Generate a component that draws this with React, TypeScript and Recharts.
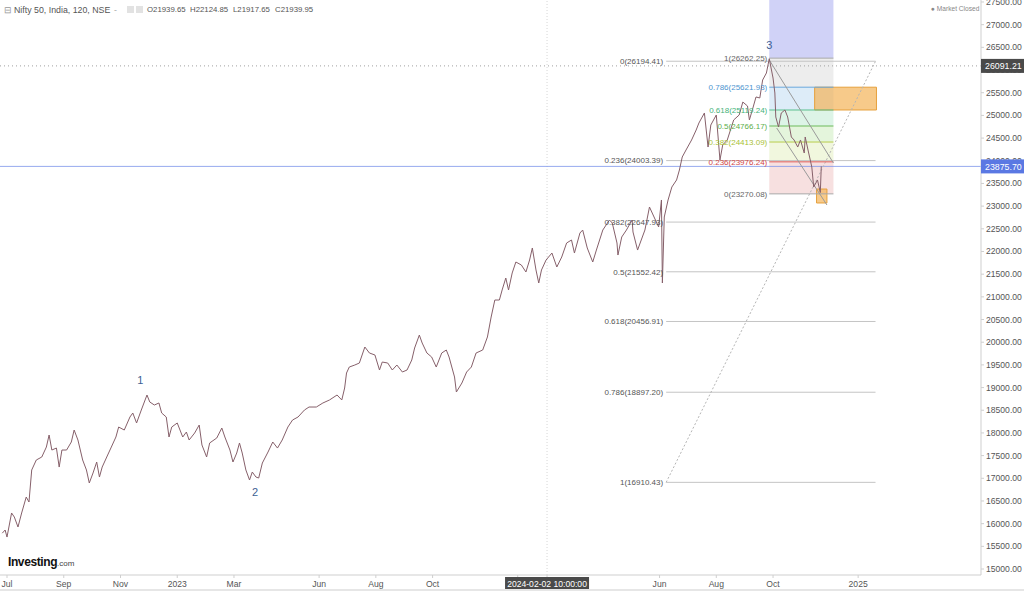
import React from 'react';
import {
  ComposedChart,
  Line,
  XAxis,
  YAxis,
  ReferenceLine,
  ReferenceArea,
  ReferenceDot,
} from 'recharts';

// price path (120-min Nifty 50) at roughly weekly steps
const priceDates = [
  '2022-06-26', '2022-06-29', '2022-07-01', '2022-07-06', '2022-07-09', '2022-07-13', '2022-07-17', '2022-07-22',
  '2022-07-25', '2022-07-28', '2022-08-02', '2022-08-08', '2022-08-13', '2022-08-16', '2022-08-19', '2022-08-24',
  '2022-08-27', '2022-08-30', '2022-09-04', '2022-09-09', '2022-09-12', '2022-09-16', '2022-09-21', '2022-09-25',
  '2022-09-28', '2022-10-02', '2022-10-06', '2022-10-09', '2022-10-12', '2022-10-17', '2022-10-22', '2022-10-27',
  '2022-10-30', '2022-11-05', '2022-11-11', '2022-11-14', '2022-11-18', '2022-11-23', '2022-11-29', '2022-12-02',
  '2022-12-07', '2022-12-12', '2022-12-15', '2022-12-20', '2022-12-23', '2022-12-26', '2023-01-01', '2023-01-07',
  '2023-01-11', '2023-01-14', '2023-01-20', '2023-01-25', '2023-01-28', '2023-02-02', '2023-02-05', '2023-02-12',
  '2023-02-17', '2023-02-20', '2023-02-25', '2023-02-28', '2023-03-04', '2023-03-07', '2023-03-10', '2023-03-14',
  '2023-03-18', '2023-03-21', '2023-03-25', '2023-03-28', '2023-04-01', '2023-04-07', '2023-04-12', '2023-04-17',
  '2023-04-22', '2023-04-28', '2023-05-03', '2023-05-09', '2023-05-16', '2023-05-21', '2023-05-29', '2023-06-05',
  '2023-06-12', '2023-06-20', '2023-06-25', '2023-06-28', '2023-06-30', '2023-07-03', '2023-07-09', '2023-07-14',
  '2023-07-20', '2023-07-25', '2023-07-31', '2023-08-05', '2023-08-08', '2023-08-14', '2023-08-19', '2023-08-24',
  '2023-08-30', '2023-09-04', '2023-09-09', '2023-09-12', '2023-09-17', '2023-09-20', '2023-09-25', '2023-09-30',
  '2023-10-05', '2023-10-11', '2023-10-16', '2023-10-19', '2023-10-25', '2023-10-27', '2023-11-02', '2023-11-07',
  '2023-11-12', '2023-11-17', '2023-11-24', '2023-11-29', '2023-12-03', '2023-12-07', '2023-12-12', '2023-12-15',
  '2023-12-19', '2023-12-22', '2023-12-26', '2023-12-30', '2024-01-05', '2024-01-10', '2024-01-14', '2024-01-17',
  '2024-01-21', '2024-01-24', '2024-01-27', '2024-02-01', '2024-02-07', '2024-02-12', '2024-02-17', '2024-02-22',
  '2024-02-27', '2024-03-01', '2024-03-07', '2024-03-10', '2024-03-15', '2024-03-21', '2024-03-25', '2024-04-01',
  '2024-04-08', '2024-04-11', '2024-04-16', '2024-04-17', '2024-04-21', '2024-04-26', '2024-05-02', '2024-05-03',
  '2024-05-08', '2024-05-12', '2024-05-16', '2024-05-21', '2024-05-24', '2024-05-31', '2024-06-03', '2024-06-04',
  '2024-06-06', '2024-06-10', '2024-06-14', '2024-06-19', '2024-06-22', '2024-06-25', '2024-06-29', '2024-07-05',
  '2024-07-10', '2024-07-13', '2024-07-19', '2024-07-23', '2024-07-26', '2024-08-01', '2024-08-05', '2024-08-08',
  '2024-08-13', '2024-08-20', '2024-08-26', '2024-08-30', '2024-09-04', '2024-09-06', '2024-09-10', '2024-09-13',
  '2024-09-17', '2024-09-20', '2024-09-24', '2024-09-27', '2024-10-01', '2024-10-03', '2024-10-04', '2024-10-07',
  '2024-10-10', '2024-10-14', '2024-10-17', '2024-10-21', '2024-10-24', '2024-10-28', '2024-10-31', '2024-11-04',
  '2024-11-05', '2024-11-08', '2024-11-12', '2024-11-14', '2024-11-18', '2024-11-21', '2024-11-22',
];

const priceCloses = [
  15790, 15860, 15705, 16235, 16146, 15926, 16235, 16587,
  16477, 17183, 17403, 17469, 17689, 17954, 17623, 17667,
  17248, 17623, 17623, 17800, 18064, 17844, 17403, 17183,
  16896, 17117, 17359, 17028, 17248, 17469, 17689, 17910,
  18130, 18064, 18351, 18439, 18219, 18505, 18836, 18682,
  18615, 18660, 18439, 18351, 17910, 18130, 18219, 17910,
  18020, 17844, 17998, 18174, 17734, 17469, 17778, 17888,
  18108, 17910, 17623, 17359, 17557, 17778, 17557, 17183,
  16962, 17138, 17028, 17006, 17337, 17579, 17800, 17667,
  17844, 18130, 18285, 18351, 18505, 18571, 18571, 18660,
  18726, 18836, 18726, 18990, 19321, 19453, 19497, 19541,
  19894, 19762, 19718, 19387, 19563, 19541, 19387, 19497,
  19343, 19387, 19608, 19872, 20158, 19982, 19762, 19674,
  19453, 19762, 19828, 19674, 19233, 18902, 19100, 19343,
  19453, 19762, 19828, 20115, 20555, 20930, 20930, 21151,
  21415, 21151, 21526, 21768, 21702, 21548, 21812, 22077,
  21592, 21305, 21592, 21812, 21966, 21658, 21878, 22187,
  22253, 21966, 22407, 22473, 22077, 21768, 22032, 22473,
  22694, 22628, 22187, 21922, 22319, 22473, 22694, 22429,
  22032, 22253, 22473, 22980, 22848, 22540, 23135, 21305,
  22760, 23135, 23421, 23576, 23796, 24083, 24237, 24458,
  24678, 24832, 25053, 24303, 24788, 25009, 24017, 24347,
  24458, 24899, 25009, 25295, 25207, 24899, 25185, 25406,
  25384, 25780, 25935, 26250, 25824, 25494, 24965, 24744,
  25053, 25119, 24965, 24524, 24458, 24303, 24458, 24171,
  24524, 24237, 23862, 23421, 23576, 23300, 23876,
];

// time axis labels
const xTickDates = [
  '2022-07-01', '2022-09-01', '2022-11-01', '2023-01-01', '2023-03-01', '2023-06-01', '2023-08-01',
  '2023-10-01', '2024-01-01', '2024-06-01', '2024-08-01', '2024-10-01', '2025-01-01',
];
const xTickLabels = ['Jul', 'Sep', 'Nov', '2023', 'Mar', 'Jun', 'Aug', 'Oct', '2024', 'Jun', 'Aug', 'Oct', '2025'];

const yTicks = [
  15000, 15500, 16000, 16500, 17000, 17500, 18000, 18500, 19000, 19500, 20000, 20500, 21000,
  21500, 22000, 22500, 23000, 23500, 24000, 24500, 25000, 25500, 26000, 26500, 27000, 27500,
];

// big fib retracement (left labels)
const fibMainRatios = ['0', '0.236', '0.382', '0.5', '0.618', '0.786', '1'];
const fibMainValues = [26194.41, 24003.39, 22647.93, 21552.42, 20456.91, 18897.2, 16910.43];
const fibMainStart = '2024-06-08';
const fibMainEnd = '2025-01-20';

// swing fib retracement (coloured)
const fibSwingRatios = ['1', '0.786', '0.618', '0.5', '0.382', '0.236', '0'];
const fibSwingValues = [26262.25, 25621.93, 25119.24, 24766.17, 24413.09, 23976.24, 23270.08];
const fibSwingLine = ['#a8a8a8', '#6aa9dd', '#5cc08e', '#6dbb5a', '#b9cd4c', '#e05a5a', '#a8a8a8'];
const fibSwingText = ['#666666', '#4d95cf', '#45b37a', '#5cae4a', '#a9bf35', '#d24545', '#666666'];
const fibSwingFill = ['#e9e9e9', '#d4e7f6', '#d5f1e1', '#ddf2d3', '#eef5d6', '#f5d8d8'];
const fibSwingStart = '2024-09-27';
const fibSwingEnd = '2024-12-05';

// price tags on the right scale: value, background
const tagPrices = [26091.21, 23875.7];
const tagColors = ['#4a4a4a', '#5a78e3'];
const crosshairDate = '2024-02-02';
const crosshairText = '2024-02-02 10:00:00';

const waveLabels = ['1', '2', '3'];
const waveDates = ['2022-11-22', '2023-03-24', '2024-09-27'];
const wavePrices = [19167, 16700, 26550];

const monthPos = (d: string) => {
  const [y, m, day] = d.split('-').map(Number);
  const dim = new Date(y, m, 0).getDate();
  return (y - 2022) * 12 + (m - 7) + (day - 1) / dim;
};

const rows = priceDates.map((d, i) => ({ t: monthPos(d), close: priceCloses[i] }));
const xTicks = xTickDates.map(monthPos);
const crossT = monthPos(crosshairDate);

const FONT = '"Liberation Sans", Arial, sans-serif';

// y ticks: tag values go last so their boxes sit on top of the plain labels
const YTick = (props: any) => {
  const { x, y, payload } = props;
  const v = payload.value as number;
  const ti = tagPrices.indexOf(v);
  if (ti >= 0) {
    return (
      <g>
        <rect x={x - 5} y={y - 7} width={43} height={14} fill={tagColors[ti]} />
        <text x={x - 1} y={y + 3.3} fill="#fff" fontSize={8.8} fontFamily={FONT}>
          {v.toFixed(2)}
        </text>
      </g>
    );
  }
  return (
    <text x={x} y={y + 3} fill="#555" fontSize={8.6} fontFamily={FONT}>
      {v.toFixed(2)}
    </text>
  );
};

const XTick = (props: any) => {
  const { x, y, payload } = props;
  const v = payload.value as number;
  if (Math.abs(v - crossT) < 1e-9) {
    return (
      <g>
        <rect x={x - 42} y={y - 2} width={84} height={13} fill="#4a4a4a" />
        <text x={x} y={y + 8} fill="#fff" fontSize={8.6} textAnchor="middle" fontFamily={FONT}>
          {crosshairText}
        </text>
      </g>
    );
  }
  const i = xTicks.findIndex((t) => Math.abs(t - v) < 1e-9);
  return (
    <text x={x} y={y + 8} fill="#555" fontSize={8.6} textAnchor="middle" fontFamily={FONT}>
      {i >= 0 ? xTickLabels[i] : ''}
    </text>
  );
};

export default function App() {
  const fm0 = monthPos(fibMainStart);
  const fm1 = monthPos(fibMainEnd);
  const fs0 = monthPos(fibSwingStart);
  const fs1 = monthPos(fibSwingEnd);

  return (
    <div
      style={{
        position: 'absolute',
        left: 0,
        top: 0,
        width: 1024,
        height: 591,
        background: '#fff',
        fontFamily: FONT,
        overflow: 'hidden',
      }}
    >
      <ComposedChart width={1024} height={591} data={rows} margin={{ top: 0, right: 0, bottom: 0, left: 0 }}>
        <XAxis
          dataKey="t"
          type="number"
          domain={[-0.247, 34.33]}
          allowDataOverflow
          ticks={[...xTicks, crossT]}
          height={16}
          tickSize={3}
          tickMargin={1}
          axisLine={{ stroke: '#cfcfcf' }}
          tickLine={{ stroke: '#cfcfcf' }}
          tick={<XTick />}
          interval={0}
        />
        <YAxis
          orientation="right"
          type="number"
          domain={[14868, 27544]}
          allowDataOverflow
          ticks={[...yTicks, ...tagPrices]}
          width={43}
          tickSize={3}
          tickMargin={2}
          axisLine={{ stroke: '#cfcfcf' }}
          tickLine={{ stroke: '#cfcfcf' }}
          tick={<YTick />}
          interval={0}
        />

        {/* swing fib zones */}
        <ReferenceArea
          x1={fs0}
          x2={fs1}
          y1={fibSwingValues[0]}
          y2={27544}
          fill="#a9adf0"
          fillOpacity={0.55}
          ifOverflow="hidden"
        />
        {fibSwingFill.map((c, i) => (
          <ReferenceArea
            key={`fz-${i}`}
            x1={fs0}
            x2={fs1}
            y1={fibSwingValues[i]}
            y2={fibSwingValues[i + 1]}
            fill={c}
            fillOpacity={0.8}
          />
        ))}

        {/* orange zones */}
        <ReferenceArea
          x1={monthPos('2024-11-15')}
          x2={monthPos('2025-01-21')}
          y1={fibSwingValues[2]}
          y2={fibSwingValues[1]}
          fill="#f4b458"
          fillOpacity={0.7}
          stroke="#e6a03c"
        />
        <ReferenceArea
          x1={monthPos('2024-11-17')}
          x2={monthPos('2024-11-28')}
          y1={23069}
          y2={23377}
          fill="#f4b458"
          fillOpacity={0.7}
          stroke="#e6a03c"
        />

        <ReferenceLine x={crossT} stroke="#d6d6d6" strokeDasharray="1 2" />
        <ReferenceLine y={tagPrices[0]} stroke="#a0a0a0" strokeDasharray="1 3" />
        <ReferenceLine y={tagPrices[1]} stroke="#7d95ea" strokeOpacity={0.8} />

        {/* big fib levels */}
        {fibMainValues.map((v, i) => (
          <ReferenceLine
            key={`fm-${i}`}
            segment={[
              { x: fm0, y: v },
              { x: fm1, y: v },
            ]}
            stroke="#c4c4c4"
            label={{
              value: `${fibMainRatios[i]}(${v.toFixed(2)})`,
              position: 'left',
              offset: 3,
              fontSize: 8,
              fill: '#555',
              fontFamily: FONT,
            }}
          />
        ))}
        <ReferenceLine
          segment={[
            { x: fm0, y: fibMainValues[6] },
            { x: fm1, y: fibMainValues[0] },
          ]}
          stroke="#b5b5b5"
          strokeDasharray="2 2"
        />

        {/* swing fib levels */}
        {fibSwingValues.map((v, i) => (
          <ReferenceLine
            key={`fs-${i}`}
            segment={[
              { x: fs0, y: v },
              { x: fs1, y: v },
            ]}
            stroke={fibSwingLine[i]}
            label={{
              value: `${fibSwingRatios[i]}(${v.toFixed(2)})`,
              position: 'left',
              offset: 2,
              fontSize: 8,
              fill: fibSwingText[i],
              fontFamily: FONT,
            }}
          />
        ))}

        {/* falling channel */}
        <ReferenceLine
          segment={[
            { x: monthPos('2024-09-27'), y: 26222 },
            { x: monthPos('2024-12-05'), y: 23950 },
          ]}
          stroke="#9a9a9a"
        />
        <ReferenceLine
          segment={[
            { x: monthPos('2024-10-05'), y: 24722 },
            { x: monthPos('2024-11-28'), y: 23025 },
          ]}
          stroke="#9a9a9a"
        />

        <Line
          dataKey="close"
          type="linear"
          stroke="#86606a"
          strokeWidth={1}
          dot={false}
          activeDot={false}
          isAnimationActive={false}
        />

        {waveLabels.map((w, i) => (
          <ReferenceDot
            key={`w-${i}`}
            x={monthPos(waveDates[i])}
            y={wavePrices[i]}
            r={1}
            fill="none"
            stroke="none"
            label={{ value: w, position: 'center', fontSize: 11, fill: '#3d5f93', fontFamily: FONT }}
          />
        ))}
      </ComposedChart>

      {/* legend / header */}
      <div style={{ position: 'absolute', left: 4, top: 4, fontSize: 8.8, color: '#555', whiteSpace: 'nowrap', lineHeight: '12px' }}>
        <span style={{ color: '#999' }}>⊟</span>
        <span style={{ position: 'absolute', left: 10 }}>Nifty 50, India, 120, NSE</span>
        <span style={{ position: 'absolute', left: 110, color: '#aaa' }}>-</span>
        <span style={{ position: 'absolute', left: 123, top: 2, width: 7, height: 7, background: '#e2e2e2' }} />
        <span style={{ position: 'absolute', left: 132, top: 2, width: 7, height: 7, background: '#e2e2e2' }} />
        <span style={{ position: 'absolute', left: 143, fontSize: 7.8 }}>O21939.65</span>
        <span style={{ position: 'absolute', left: 186, fontSize: 7.8 }}>H22124.85</span>
        <span style={{ position: 'absolute', left: 229, fontSize: 7.8 }}>L21917.65</span>
        <span style={{ position: 'absolute', left: 271, fontSize: 7.8 }}>C21939.95</span>
      </div>
      <div style={{ position: 'absolute', left: 931, top: 5, fontSize: 6.6, color: '#888', whiteSpace: 'nowrap' }}>
        ● Market Closed
      </div>
      <div style={{ position: 'absolute', left: 8, top: 554, whiteSpace: 'nowrap', lineHeight: '14px' }}>
        <span style={{ fontSize: 12, fontWeight: 700, color: '#111', letterSpacing: -0.4 }}>Investing</span>
        <span style={{ fontSize: 8, color: '#444' }}>.com</span>
      </div>
      <div style={{ position: 'absolute', left: 0, top: 589, width: 1024, height: 2, background: '#e6e6e6' }} />
    </div>
  );
}
